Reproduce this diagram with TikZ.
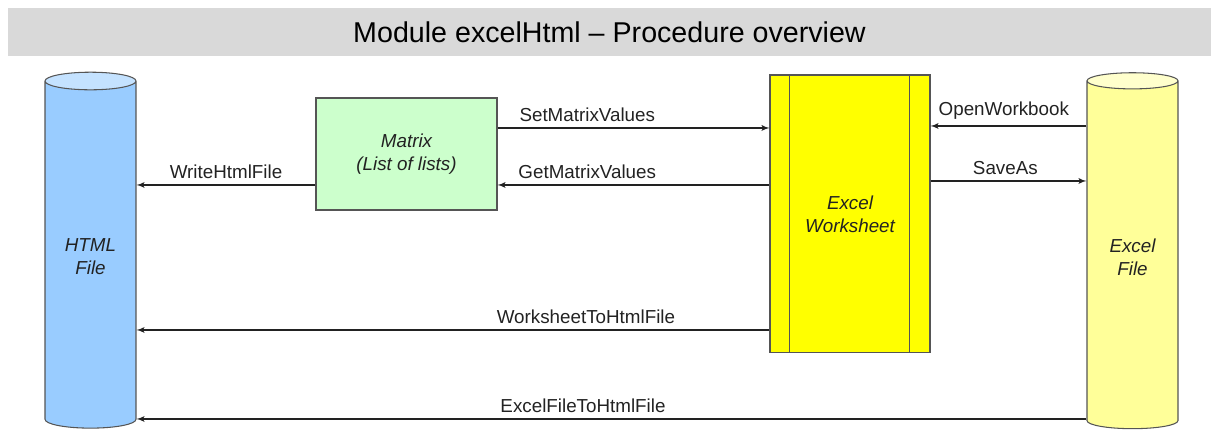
\documentclass[tikz,border=0pt]{standalone}
\usepackage{fontspec}
\setmainfont{Liberation Sans}
\usetikzlibrary{shapes.geometric, arrows}

\definecolor{htmlblue}{HTML}{99CCFF}
\definecolor{htmltop}{HTML}{C4E2FF}
\definecolor{xlsyellow}{HTML}{FFFF99}
\definecolor{xlstop}{HTML}{FFFFCC}
\definecolor{mtxgreen}{HTML}{CCFFCC}
\definecolor{sheetyellow}{HTML}{FFFF00}
\definecolor{bandgray}{HTML}{D9D9D9}
\definecolor{edgegray}{HTML}{555555}
\definecolor{textgray}{HTML}{222222}

\tikzset{
  lbl/.style={font=\fontsize{10.7}{13}\selectfont, text=textgray},
  store/.style={cylinder, shape border rotate=90, aspect=0.28, draw=edgegray,
    semithick, cylinder uses custom fill, minimum width=1.82cm,
    minimum height=7.12cm, align=center, text=textgray,
    font=\fontsize{10.7}{13}\selectfont\itshape},
  procbox/.style={rectangle, draw=edgegray, semithick, align=center,
    text=textgray, font=\fontsize{10.7}{13}\selectfont\itshape}
}

\begin{document}
\begin{tikzpicture}[x=0.02cm, y=-0.02cm, >=latex', semithick]
    \useasboundingbox (0,0) rectangle (1211,431);

    % title band
    \node[fill=bandgray, minimum width=24.06cm, minimum height=0.96cm,
      font=\fontsize{16.3}{19}\selectfont] (title) at (609.5,32)
      {Module excelHtml -- Procedure overview};

    % storage
    \node[store, cylinder body fill=htmlblue, cylinder end fill=htmltop]
      (htmlfile) at (90.5,257) {HTML\\File};
    \node[store, cylinder body fill=xlsyellow, cylinder end fill=xlstop]
      (xlsfile) at (1132.5,257) {Excel\\File};

    % processing
    \node[procbox, fill=mtxgreen, minimum width=3.62cm, minimum height=2.24cm]
      (mtx) at (406.5,154) {Matrix\\(List of lists)};
    \node[procbox, fill=sheetyellow, minimum width=3.2cm, minimum height=5.56cm]
      (sheet) at (850,214) {Excel\\Worksheet};
    \draw[edgegray] ([xshift=0.4cm]sheet.north west) -- ([xshift=0.4cm]sheet.south west);
    \draw[edgegray] ([xshift=-0.42cm]sheet.north east) -- ([xshift=-0.42cm]sheet.south east);

    \path[->, color=textgray]
    (mtx.east |- 0,128) edge node[lbl, above, pos=.33] {SetMatrixValues} (sheet.west |- 0,128)
    (sheet.west |- 0,185) edge node[lbl, above, pos=.67] {GetMatrixValues} (mtx.east |- 0,185)
    (mtx.west |- 0,185) edge node[lbl, above] {WriteHtmlFile} (htmlfile.east |- 0,185)
    (xlsfile.west |- 0,126) edge node[lbl, above, pos=.53] {OpenWorkbook} (sheet.east |- 0,126)
    (sheet.east |- 0,181) edge node[lbl, above, pos=.48] {SaveAs} (xlsfile.west |- 0,181)
    (sheet.west |- 0,330) edge node[lbl, above, pos=.29] {WorksheetToHtmlFile} (htmlfile.east |- 0,330)
    (xlsfile.west |- 0,419) edge node[lbl, above, pos=.53] {ExcelFileToHtmlFile} (htmlfile.east |- 0,419);
\end{tikzpicture}
\end{document}
